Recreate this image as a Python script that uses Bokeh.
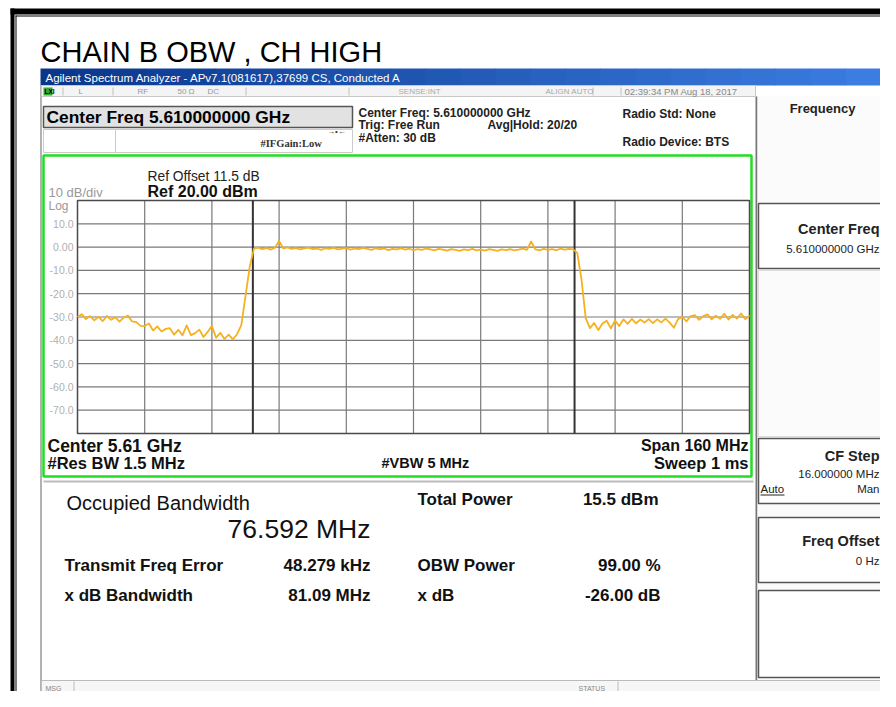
from bokeh.plotting import figure
from bokeh.models import Range1d
from bokeh.core.properties import value
from bokeh.embed import file_html
from bokeh.resources import INLINE

# ---------------- data ----------------
title = "CHAIN B OBW , CH HIGH"
center_freq_mhz = 5610.0
span_mhz = 160.0
ref_level_dbm = 20.0
db_per_div = 10.0
n_div = 10
freq_start_mhz = 5530.0
freq_step_mhz = 1.0
trace_dbm = [
    -30.0, -28.8, -30.9, -29.6, -31.4, -29.9, -31.8, -29.5, -31.2, -30.1,
    -32.0, -30.3, -29.4, -31.9, -32.2, -33.8, -33.9, -32.8, -35.8, -34.0,
    -36.2, -35.1, -34.8, -37.6, -35.5, -37.9, -33.6, -37.8, -36.9, -35.4,
    -38.6, -36.4, -33.8, -38.9, -36.8, -39.4, -37.6, -39.6, -37.4, -33.5,
    -21.0, -8.5, -0.7, -0.2, -0.9, -0.4, -1.1, -0.3, 2.6, -0.6,
    -0.1, -0.8, -0.4, -1.0, -0.5, -0.2, -0.9, -0.6, -1.2, -0.5,
    -0.8, -0.3, -1.0, -0.7, -0.4, -1.1, -0.6, -0.9, -0.3, -0.8,
    -1.2, -0.5, -0.9, -0.6, -1.3, -0.8, -1.0, -0.5, -1.1, -0.7,
    -1.3, -0.9, -1.2, -0.6, -1.0, -1.4, -0.8, -1.1, -1.5, -0.9,
    -1.2, -1.6, -1.0, -1.3, -0.8, -1.4, -1.1, -1.5, -0.9, -1.2,
    -1.6, -1.0, -1.3, -0.9, -1.4, -1.1, -0.7, -1.2, 2.4, -1.0,
    -1.4, -0.8, -1.2, -0.9, -1.3, -0.7, -1.1, -0.8, -1.0, -2.5,
    -14.0, -30.5, -34.8, -32.6, -35.6, -32.8, -31.6, -34.9, -31.5, -33.9,
    -31.0, -32.9, -30.8, -32.7, -31.1, -32.4, -30.9, -32.6, -31.0, -32.3,
    -30.7, -32.4, -34.6, -30.9, -30.0, -31.9, -29.6, -29.2, -31.2, -29.6,
    -28.9, -31.0, -29.4, -30.8, -28.6, -31.1, -29.1, -30.7, -28.5, -30.9,
    -29.4,
]
trace_freq_mhz = [freq_start_mhz + i * freq_step_mhz for i in range(len(trace_dbm))]
y_tick_values = [10, 0, -10, -20, -30, -40, -50, -60, -70]
y_tick_labels = ["10.0", "0.00", "-10.0", "-20.0", "-30.0", "-40.0", "-50.0", "-60.0", "-70.0"]
obw_mhz = 76.592
freq_error_khz = 48.279

meas_labels = ["Total Power", "Transmit Freq Error", "OBW Power", "x dB Bandwidth", "x dB"]
meas_values = ["15.5 dBm", "48.279 kHz", "99.00 %", "81.09 MHz", "-26.00 dB"]

# ---------------- layout (reference pixel coordinates) ----------------
GX0, GX1 = 77.0, 749.0      # graticule left/right
GY0, GY1 = 200.0, 433.0     # graticule top/bottom
X0, X1, Y0, Y1 = 0.0, 880.0, 0.0, 691.0

def f_at(px):
    return freq_start_mhz + (px - GX0) * span_mhz / (GX1 - GX0)

def d_at(py):
    return ref_level_dbm - (py - GY0) * (db_per_div * n_div) / (GY1 - GY0)

p = figure(width=880, height=691, x_range=Range1d(X0, X1), y_range=Range1d(Y1, Y0),
           output_backend="svg", toolbar_location=None, x_axis_type=None, y_axis_type=None,
           min_border=0)
p.outline_line_color = None
p.background_fill_color = "white"
p.border_fill_color = "white"
p.extra_x_ranges = {"f": Range1d(f_at(X0), f_at(X1))}
p.extra_y_ranges = {"d": Range1d(d_at(Y1), d_at(Y0))}

FONT = value("Liberation Sans")

def box(l, r, t, b, fill=None, line=None, lw=1):
    p.quad(left=[l], right=[r], top=[t], bottom=[b],
           fill_color=fill, fill_alpha=1 if fill else 0,
           line_color=line, line_width=lw, line_alpha=1 if line else 0)

def T(x, y, s, size, bold=False, color="black", align="left", font=FONT):
    style = "bold" if bold else "normal"
    p.text(x=[x], y=[y], text=[s], text_font=font, text_font_size=f"{size}px",
           text_font_style=style, text_color=color, text_align=align, text_baseline="middle")

# outer frame
box(10, 14, 691, 8, fill="black")
box(10, 880, 14, 8, fill="black")
box(15, 16, 691, 15, fill="black")
box(15, 880, 16, 15, fill="black")

# title
T(40, 51, title, 29)

# window title bar gradient
n_strips = 24
for k in range(n_strips):
    t = k / (n_strips - 1)
    r = int(10 + t * (60 - 10)); g = int(55 + t * (125 - 55)); b_ = int(140 + t * (225 - 140))
    w = (880 - 40) / n_strips
    box(40 + k * w, 40 + (k + 1) * w + 0.5, 85, 68, fill=f"#{r:02x}{g:02x}{b_:02x}")
T(45, 77, "Agilent Spectrum Analyzer - APv7.1(081617),37699 CS, Conducted A", 11.5, color="white")

# window body edge
box(40, 41, 691, 85, fill="#666666")

# status row
box(41, 755, 96, 85, fill="#f4f4f4", line="#c8c8c8")
box(43, 52, 95, 87, fill="#33aa33")
T(44, 91, "LXI", 6.5, bold=True, color="black")
for sx in [62, 112, 245, 348, 592, 620]:
    box(sx, sx + 1, 95, 87, fill="#c0c0c0")
T(78, 91, "L", 8, color="#999999")
T(137, 91, "RF", 8, color="#999999")
T(177, 91, "50 Ω", 8, color="#999999")
T(207, 91, "DC", 8, color="#999999")
T(398, 91, "SENSE:INT", 8, color="#aaaaaa")
T(545, 91, "ALIGN AUTO", 8, color="#aaaaaa")
T(624, 91, "02:39:34 PM Aug 18, 2017", 9.5, color="#888888")

# center freq box
box(43, 352, 127, 106, fill="#e2e2e2", line="#555555", lw=1.5)
T(46, 116.5, "Center Freq 5.610000000 GHz", 17.4, bold=True)
box(43, 115, 152, 129, fill="white", line="#cccccc")
box(115, 352, 152, 129, fill="white", line="#cccccc")
T(260, 143, "#IFGain:Low", 10.5, bold=True, color="#333333", font=value("Liberation Serif"))
T(336, 131, "→•←", 8, color="#333333", align="center")
T(358, 112, "Center Freq: 5.610000000 GHz", 12, bold=True, color="#222222")
T(358, 124, "Trig: Free Run", 12, bold=True, color="#222222")
T(358, 137, "#Atten: 30 dB", 12, bold=True, color="#222222")
T(487, 124, "Avg|Hold: 20/20", 12, bold=True, color="#222222")
T(622, 113, "Radio Std: None", 12, bold=True, color="#222222")
T(622, 141, "Radio Device: BTS", 12, bold=True, color="#222222")

# right panel
box(755, 757, 680, 96, fill="#777777")
box(757, 880, 680, 96, fill="#fbfbfb")
T(822, 108, "Frequency", 13, bold=True, color="#222222", align="center")
box(758, 881, 268, 203, fill="white", line="#555555", lw=1.5)
T(879, 228, "Center Freq", 14.5, bold=True, color="#222222", align="right")
T(879, 248, "5.610000000 GHz", 11.5, color="#222222", align="right")
box(758, 881, 436, 270, fill="#fbfbfb", line="#dddddd", lw=1)
box(758, 881, 503, 438, fill="white", line="#555555", lw=1.5)
T(879, 455, "CF Step", 14.5, bold=True, color="#222222", align="right")
T(879, 473, "16.000000 MHz", 11.5, color="#222222", align="right")
T(760, 488, "Auto", 11.5, color="#222222")
box(760, 784, 495, 494, fill="#222222")
T(879, 488, "Man", 11.5, color="#222222", align="right")
box(758, 881, 582, 517, fill="white", line="#555555", lw=1.5)
T(879, 540, "Freq Offset", 14.5, bold=True, color="#222222", align="right")
T(879, 560, "0 Hz", 11.5, color="#222222", align="right")
box(758, 881, 677, 590, fill="white", line="#555555", lw=1.5)

# green trace window
box(43, 751, 476, 155, fill="white", line="#22dd22", lw=2.5)
T(147, 176, "Ref Offset 11.5 dB", 13.8, color="#222222")
T(147, 191, "Ref 20.00 dBm", 16, bold=True, color="#111111")
T(48, 192, "10 dB/div", 13, color="#999999")
T(48, 205, "Log", 12, color="#999999")

# graticule grid (data space)
n_vlines = n_div - 1
v_freqs = [freq_start_mhz + (k + 1) * span_mhz / n_div for k in range(n_vlines)]
p.segment(x0=v_freqs, x1=v_freqs, y0=[ref_level_dbm] * n_vlines,
          y1=[ref_level_dbm - n_div * db_per_div] * n_vlines,
          x_range_name="f", y_range_name="d", line_color="#7a7a7a", line_width=1.2)
p.segment(x0=[freq_start_mhz] * len(y_tick_values), x1=[freq_start_mhz + span_mhz] * len(y_tick_values),
          y0=y_tick_values, y1=y_tick_values,
          x_range_name="f", y_range_name="d", line_color="#7a7a7a", line_width=1.2)
# graticule border
p.quad(left=[freq_start_mhz], right=[freq_start_mhz + span_mhz], top=[ref_level_dbm],
       bottom=[ref_level_dbm - n_div * db_per_div], fill_alpha=0, line_color="#4a4a4a",
       line_width=1.5, x_range_name="f", y_range_name="d")
# y tick labels
p.text(x=[73] * len(y_tick_values), y=y_tick_values, text=y_tick_labels, y_range_name="d",
       text_font=FONT, text_font_size="10.5px", text_color="#b0b0b0", text_align="right",
       text_baseline="middle")

# OBW markers
obw_center = center_freq_mhz + freq_error_khz / 1000.0
obw_edges = [obw_center - obw_mhz / 2, obw_center + obw_mhz / 2]
p.segment(x0=obw_edges, x1=obw_edges, y0=[ref_level_dbm] * 2,
          y1=[ref_level_dbm - n_div * db_per_div] * 2,
          x_range_name="f", y_range_name="d", line_color="#333333", line_width=2)

# trace
p.line(x=trace_freq_mhz, y=trace_dbm, x_range_name="f", y_range_name="d",
       line_color="#f5b120", line_width=1.8, line_join="round")

# bottom annotations inside green window
T(47, 445, "Center 5.61 GHz", 17.5, bold=True, color="#111111")
T(47, 462, "#Res BW 1.5 MHz", 16.5, bold=True, color="#111111")
T(381, 462, "#VBW 5 MHz", 14.5, bold=True, color="#111111")
T(748, 445, "Span 160 MHz", 16, bold=True, color="#111111", align="right")
T(748, 462, "Sweep 1 ms", 16.5, bold=True, color="#111111", align="right")

# measurement panel
box(43, 753, 482, 480, fill="#bbbbbb")
T(66, 502, "Occupied Bandwidth", 20, color="#111111")
T(370, 528, f"{obw_mhz:.3f} MHz", 26.5, color="#111111", align="right")
T(417, 499, meas_labels[0], 17, bold=True, color="#111111")
T(658, 499, meas_values[0], 17, bold=True, color="#111111", align="right")
T(64, 565, meas_labels[1], 17, bold=True, color="#111111")
T(370, 565, meas_values[1], 17, bold=True, color="#111111", align="right")
T(417, 565, meas_labels[2], 17, bold=True, color="#111111")
T(660, 565, meas_values[2], 17, bold=True, color="#111111", align="right")
T(64, 595, meas_labels[3], 17, bold=True, color="#111111")
T(370, 595, meas_values[3], 17, bold=True, color="#111111", align="right")
T(417, 595, meas_labels[4], 17, bold=True, color="#111111")
T(660, 595, meas_values[4], 17, bold=True, color="#111111", align="right")

# message bar
box(41, 881, 699, 680, fill="#f6f6f6", line="#bbbbbb")
box(73, 74, 691, 681, fill="#bbbbbb")
box(617, 618, 691, 681, fill="#bbbbbb")
T(45, 688, "MSG", 7, color="#888888")
T(578, 688, "STATUS", 7, color="#888888")

open("out.html", "w").write(file_html(p, INLINE))
